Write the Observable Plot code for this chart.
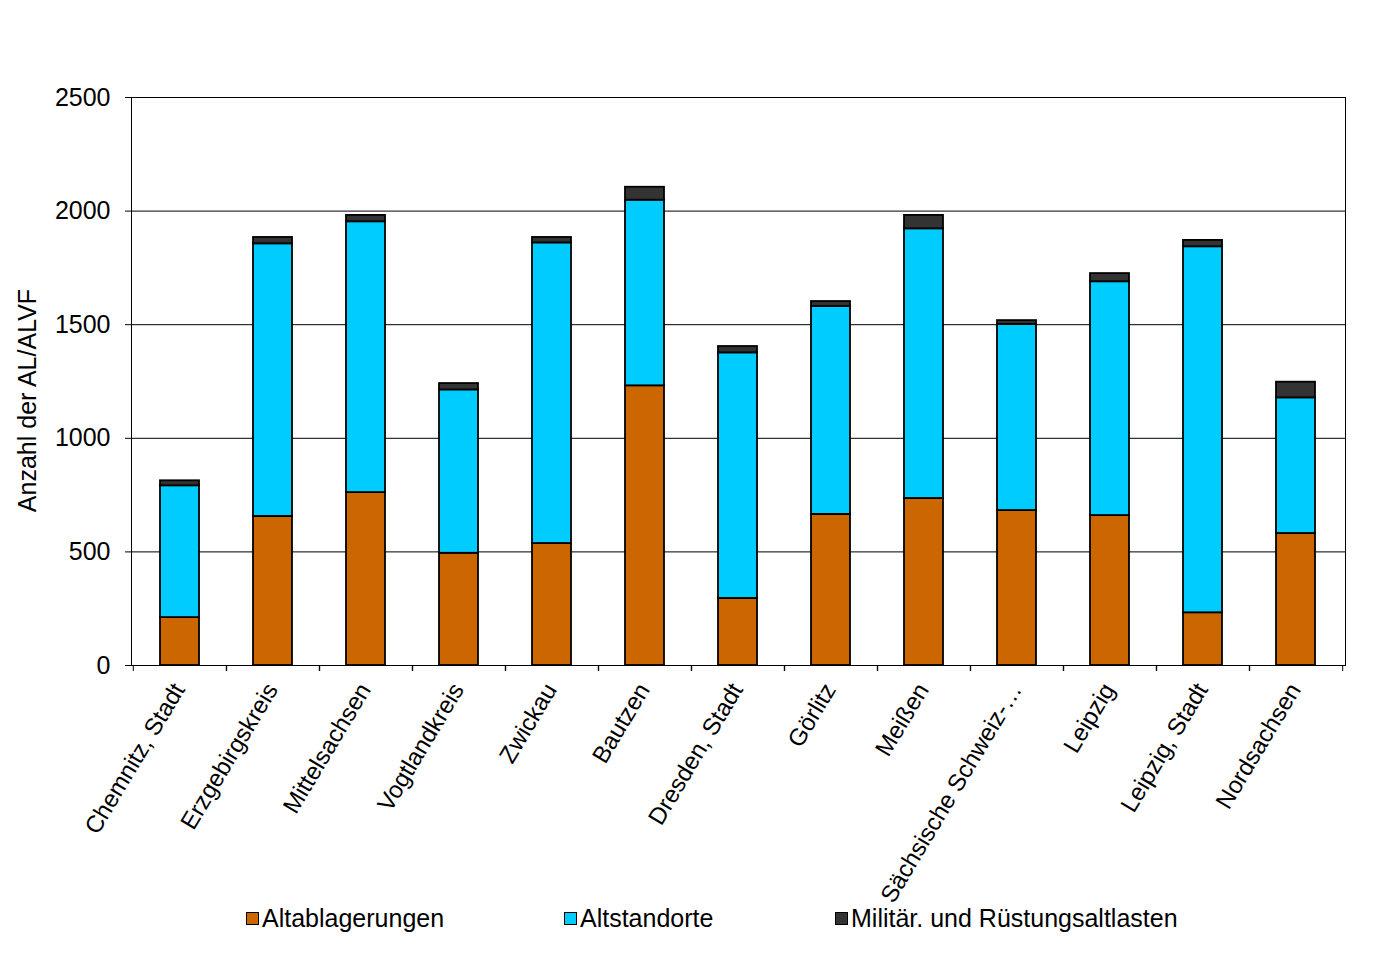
<!DOCTYPE html>
<html>
<head>
<meta charset="utf-8">
<script src="https://cdn.jsdelivr.net/npm/d3@7"></script>
<script src="https://cdn.jsdelivr.net/npm/@observablehq/plot@0.6"></script>
<style>
  html, body { margin: 0; padding: 0; background: #fff; }
  #wrap { position: relative; width: 1395px; height: 961px; font-family: "Liberation Sans", Arial, sans-serif; }
  #legend { position: absolute; top: 903px; left: 0; width: 1395px; height: 30px; font-size: 25px; color: #000; }
  .item { position: absolute; top: 0; display: flex; align-items: center; height: 30px; white-space: nowrap; }
  .sw { width: 11px; height: 11px; border: 1.5px solid #000; margin-right: 3px; }
</style>
</head>
<body>
<div id="wrap"><div id="legend"></div></div>
<script>
const categories = ["Chemnitz, Stadt", "Erzgebirgskreis", "Mittelsachsen", "Vogtlandkreis", "Zwickau", "Bautzen", "Dresden, Stadt", "Görlitz", "Meißen", "Sächsische Schweiz-…", "Leipzig", "Leipzig, Stadt", "Nordsachsen"];
const altablagerungen = [211, 656, 761, 494, 537, 1231, 295, 665, 735, 682, 660, 232, 581];
const altstandorte    = [580, 1200, 1192, 719, 1323, 817, 1081, 915, 1187, 819, 1029, 1611, 597];
const militaer        = [22, 28, 28, 28, 24, 57, 28, 22, 59, 17, 36, 28, 69];
const seriesNames = ["Altablagerungen", "Altstandorte", "Militär. und Rüstungsaltlasten"];
const seriesColors = ["#CC6600", "#00CCFF", "#333333"];
const yTicks = [0, 500, 1000, 1500, 2000, 2500];
const yLabel = "Anzahl der AL/ALVF";

const seriesValues = [altablagerungen, altstandorte, militaer];
const rows = [];
seriesNames.forEach((s, si) => {
  categories.forEach((c, ci) => rows.push({cat: c, series: s, value: seriesValues[si][ci]}));
});

const W = 1395, H = 961;
const mL = 131, mR = 50, mT = 97, mB = 296;
const step = (W - mL - mR) / categories.length;

const chart = Plot.plot({
  width: W, height: H,
  marginLeft: mL, marginRight: mR, marginTop: mT, marginBottom: mB,
  style: {fontFamily: "'Liberation Sans', Arial, sans-serif", fontSize: "25px", color: "#000", background: "#fff"},
  x: {domain: categories, paddingInner: 0.58, paddingOuter: 0.29, label: null},
  y: {domain: [0, 2500], label: null},
  color: {domain: seriesNames, range: seriesColors},
  marks: [
    Plot.gridY(yTicks, {stroke: "#000", strokeOpacity: 1, strokeWidth: 1}),
    Plot.barY(rows, {x: "cat", y: "value", fill: "series", stroke: "#000", strokeWidth: 1.8, order: seriesNames}),
    Plot.frame({stroke: "#000", strokeWidth: 1}),
    Plot.axisY({ticks: yTicks, tickSize: 6, tickPadding: 15, fontSize: 25, label: null, tickFormat: d => String(d)}),
    Plot.axisX({tickSize: 0, tickPadding: 20, tickRotate: -59, fontSize: 24, label: null, dx: -1}),
    Plot.axisX({tickSize: 6, text: null, label: null, dx: step / 2}),
    Plot.axisX({tickSize: 6, text: null, label: null, dx: -step / 2}),
    Plot.text([yLabel], {frameAnchor: "left", textAnchor: "middle", rotate: -90, dx: -104, dy: 19, fontSize: 25, fill: "#000"})
  ]
});
document.getElementById("wrap").prepend(chart);

const legend = document.getElementById("legend");
const legendX = [246, 564, 835];
seriesNames.forEach((s, i) => {
  const it = document.createElement("div");
  it.className = "item";
  it.style.left = legendX[i] + "px";
  const sw = document.createElement("div");
  sw.className = "sw";
  sw.style.background = seriesColors[i];
  const t = document.createElement("span");
  t.textContent = s;
  it.appendChild(sw); it.appendChild(t);
  legend.appendChild(it);
});
</script>
</body>
</html>
